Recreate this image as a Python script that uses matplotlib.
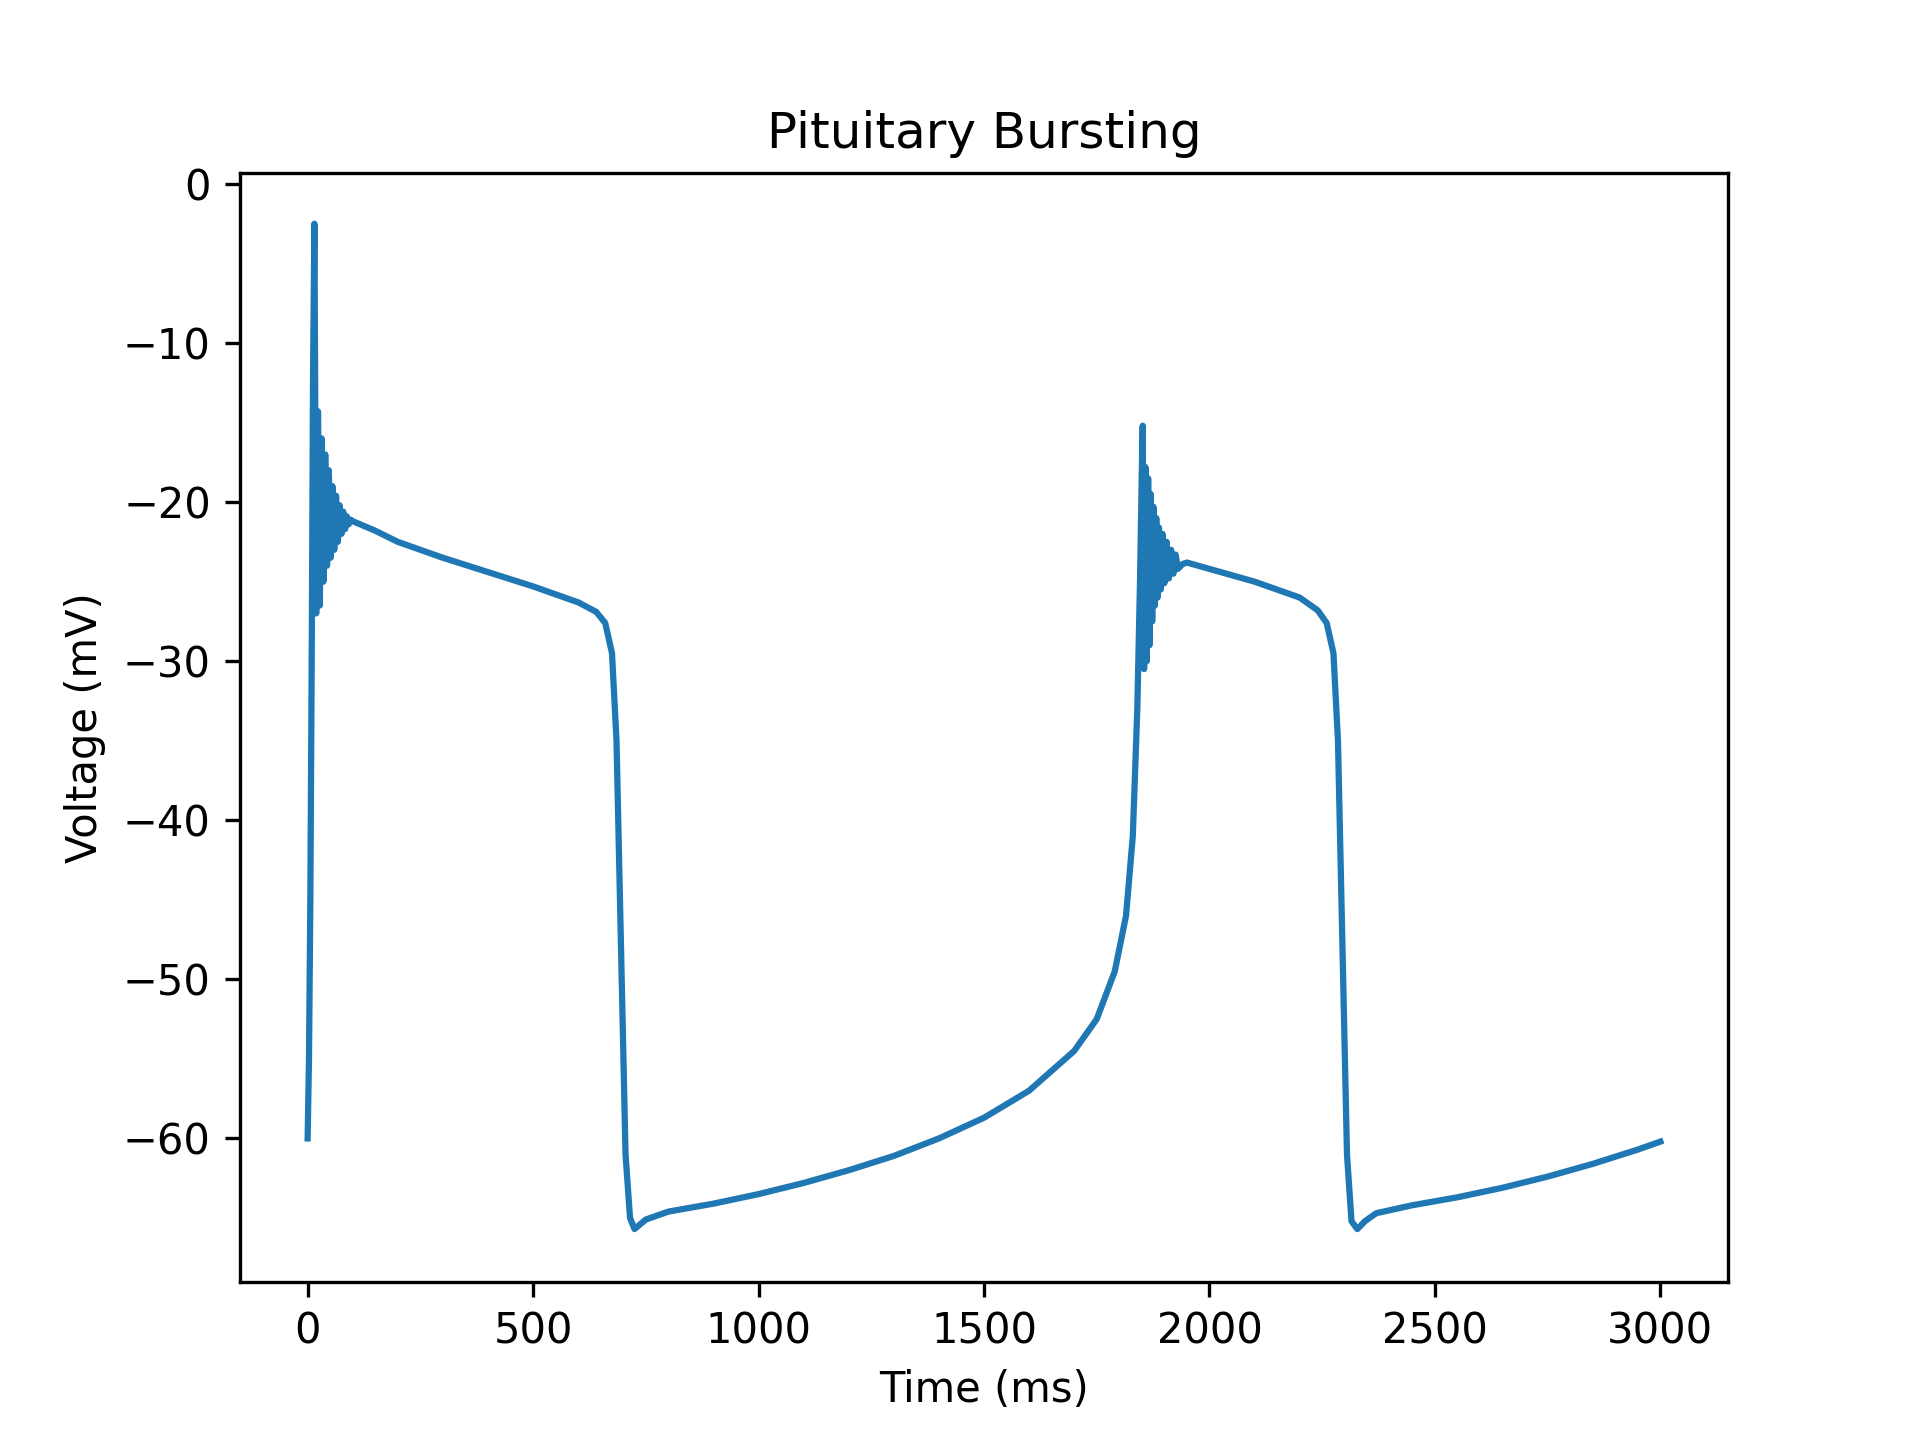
import numpy as np
import matplotlib
matplotlib.use("Agg")
import matplotlib.pyplot as plt

# Trace: (time ms, voltage mV)
rise1_t = [0, 3, 6, 9, 12, 15]
rise1_v = [-60, -55, -45, -30, -12, -2.5]

burst1_t = [19, 23, 27, 31, 35, 39, 43, 47, 51, 55, 59, 63, 67, 71, 75, 79, 83, 87, 91, 95, 100]
burst1_v = [-27, -14.3, -26.5, -16, -25, -17, -24, -18, -23.5, -19, -23, -19.6, -22.5, -20.2,
            -22, -20.6, -21.7, -20.9, -21.4, -21.1, -21.2]

plateau1_t = [150, 200, 300, 400, 500, 600, 640, 660, 675, 685, 695, 705, 715, 725, 750, 800,
              900, 1000, 1100, 1200, 1300, 1400, 1500, 1600, 1700, 1750, 1790, 1815, 1830, 1840,
              1846, 1850]
plateau1_v = [-21.8, -22.5, -23.5, -24.4, -25.3, -26.3, -26.9, -27.6, -29.5, -35, -48, -61,
              -65, -65.7, -65.1, -64.6, -64.1, -63.5, -62.8, -62, -61.1, -60, -58.7, -57,
              -54.5, -52.5, -49.5, -46, -41, -33, -25, -18]

burst2_t = [1852, 1855, 1858, 1861, 1864, 1867, 1870, 1873, 1876, 1879, 1882, 1885, 1888,
            1892, 1896, 1900, 1905, 1910, 1915, 1920, 1925, 1930, 1940, 1950]
burst2_v = [-15.2, -30.5, -17.8, -30, -18.5, -29, -19.5, -27.5, -20.3, -26.5, -21, -26,
            -21.6, -25.5, -22, -25.1, -22.5, -24.8, -23, -24.5, -23.3, -24.2, -23.9, -23.8]

plateau2_t = [2000, 2100, 2200, 2240, 2260, 2275, 2285, 2295, 2305, 2315, 2328, 2345, 2370,
              2450, 2550, 2650, 2750, 2850, 2950, 3000]
plateau2_v = [-24.2, -25, -26, -26.8, -27.6, -29.5, -35, -48, -61, -65.2, -65.7, -65.2,
              -64.7, -64.2, -63.7, -63.1, -62.4, -61.6, -60.7, -60.2]

t = rise1_t + burst1_t + plateau1_t + burst2_t + plateau2_t
v = rise1_v + burst1_v + plateau1_v + burst2_v + plateau2_v

fig, ax = plt.subplots(figsize=(6.4, 4.8))
ax.plot(t, v, color="#1f77b4", linewidth=1.5)
ax.set_title("Pituitary Bursting")
ax.set_xlabel("Time (ms)")
ax.set_ylabel("Voltage (mV)")
ax.set_xlim(-150, 3150)
ax.set_ylim(-69, 0.7)
ax.set_xticks([0, 500, 1000, 1500, 2000, 2500, 3000])
ax.set_yticks([0, -10, -20, -30, -40, -50, -60])
plt.savefig("out.png", dpi=300)
plt.close()
